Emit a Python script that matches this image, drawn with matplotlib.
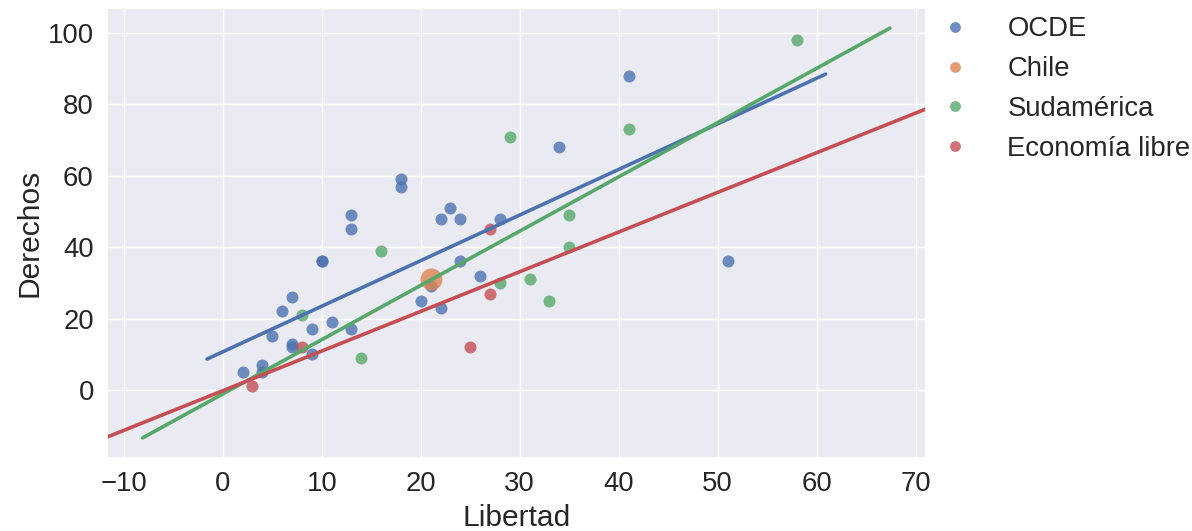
import matplotlib
import numpy as np
import seaborn as sns

matplotlib.use("Agg")
import matplotlib.pyplot as plt
from matplotlib.lines import Line2D

# Data
ocde_x = [2, 4, 4, 5, 6, 7, 7, 7, 9, 9, 10, 10, 11, 13, 13, 13, 18, 18, 20, 21,
          22, 22, 23, 24, 24, 26, 28, 34, 41, 51]
ocde_y = [5, 7, 5, 15, 22, 26, 13, 12, 17, 10, 36, 36, 19, 17, 45, 49, 59, 57, 25, 29,
          48, 23, 51, 48, 36, 32, 48, 68, 88, 36]
chile_x = [21]
chile_y = [31]
sud_x = [8, 14, 16, 28, 29, 31, 33, 35, 35, 41, 58]
sud_y = [21, 9, 39, 30, 71, 31, 25, 49, 40, 73, 98]
libre_x = [3, 8, 25, 27, 27]
libre_y = [1, 12, 12, 27, 45]

# fitted lines: slope, intercept and x range shown
ocde_fit = (1.277, 10.7, -1.6, 60.9)
sud_fit = (1.52, -1.1, -8.1, 67.4)
libre_fit = (1.111, -0.2, -15, 75)

labels = ["OCDE", "Chile", "Sudamérica", "Economía libre"]
x_ticks = [-10, 0, 10, 20, 30, 40, 50, 60, 70]
y_ticks = [0, 20, 40, 60, 80, 100]

sns.set_theme(style="darkgrid")
plt.rcParams["font.family"] = ["Liberation Sans", "DejaVu Sans"]
colors = sns.color_palette("deep")

fig = plt.figure(figsize=(11.92, 5.31), dpi=100)
ax = fig.add_axes([107 / 1192, 73 / 531, 819 / 1192, 450 / 531])


def fit_line(ax, fit, color):
    slope, intercept, x0, x1 = fit
    xs = np.array([x0, x1])
    ax.plot(xs, slope * xs + intercept, color=color, lw=2.6, solid_capstyle="round")


ax.scatter(ocde_x, ocde_y, s=75, color=colors[0], alpha=0.8, linewidths=0)
fit_line(ax, ocde_fit, colors[0])
ax.scatter(chile_x, chile_y, s=250, color=colors[1], alpha=0.8, linewidths=0)
ax.scatter(sud_x, sud_y, s=75, color=colors[2], alpha=0.8, linewidths=0)
fit_line(ax, sud_fit, colors[2])
ax.scatter(libre_x, libre_y, s=75, color=colors[3], alpha=0.8, linewidths=0)
fit_line(ax, libre_fit, colors[3])

ax.set_xlim(-11.7, 71.05)
ax.set_ylim(-19.05, 107)
ax.set_xticks(x_ticks)
ax.set_yticks(y_ticks)
ax.tick_params(labelsize=19.8)
ax.set_xlabel("Libertad", fontsize=21.6, labelpad=5)
ax.set_ylabel("Derechos", fontsize=21.6, labelpad=3)

handles = [Line2D([], [], marker="o", ls="", ms=7.8, color=c, alpha=0.8, mew=0)
           for c in colors[:4]]
fig.legend(handles, labels, loc="upper left", bbox_to_anchor=(941 / 1192, 0.969),
           frameon=False, fontsize=19.8, borderpad=0, borderaxespad=0,
           handlelength=1.0, handletextpad=1.41, labelspacing=0.5)

fig.savefig("out.png", dpi=100)
plt.close(fig)
